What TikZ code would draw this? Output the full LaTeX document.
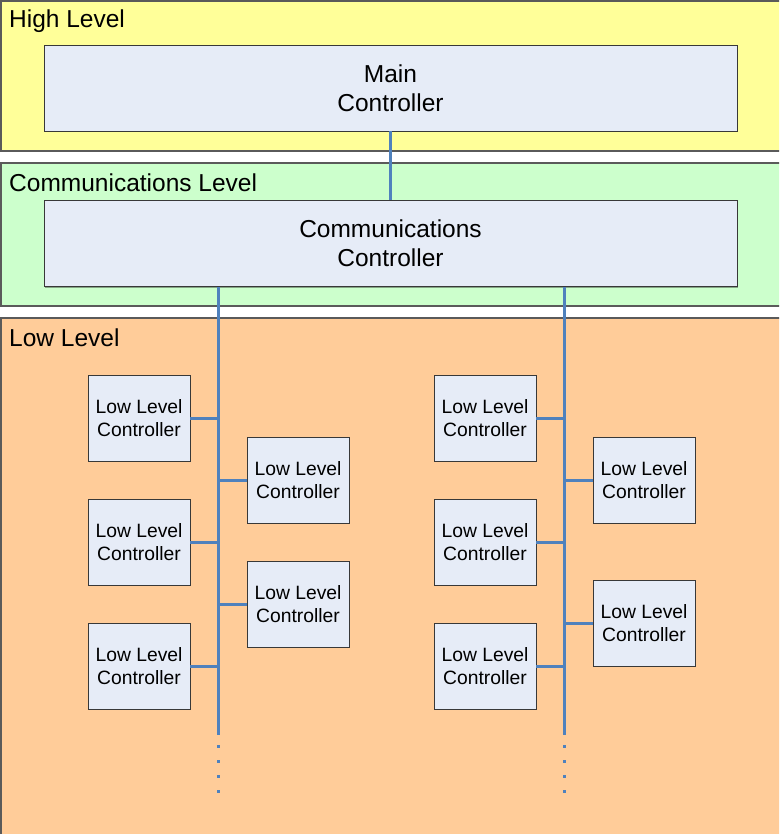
\documentclass[tikz,border=0pt]{standalone}
\usepackage{fontspec}
\setmainfont{Liberation Sans}
\usetikzlibrary{shadows}
\definecolor{hiyel}{HTML}{FFFF99}
\definecolor{comgrn}{HTML}{CCFFCC}
\definecolor{loor}{HTML}{FFCC99}
\definecolor{boxfill}{HTML}{E6ECF7}
\definecolor{busblue}{HTML}{4F81BD}
\definecolor{layerline}{HTML}{5A5A5A}
\definecolor{boxline}{HTML}{383838}
\tikzset{
  layer/.style={draw=layerline, line width=1.3pt},
  layertitle/.style={anchor=west, inner sep=0pt, font=\fontsize{24.5}{29}\selectfont},
  bigbox/.style={draw=boxline, fill=boxfill, line width=0.9pt, minimum width=693pt, minimum height=86pt, inner sep=0pt, align=center, font=\fontsize{24.5}{29}\selectfont, drop shadow={shadow xshift=1pt, shadow yshift=-1pt, fill=black, opacity=0.35}},
  llbox/.style={draw=boxline, fill=boxfill, line width=0.9pt, minimum width=102pt, minimum height=86pt, inner sep=0pt, align=center, font=\fontsize{19.3}{23}\selectfont, drop shadow={shadow xshift=1pt, shadow yshift=-1pt, fill=black, opacity=0.35}},
  bus/.style={draw=busblue, line width=3pt},
  busdots/.style={draw=busblue, line width=3pt, dash pattern=on 3pt off 12pt},
}
\begin{document}
\begin{tikzpicture}[x=1pt,y=-1pt]
\useasboundingbox (0,0) rectangle (779,834);
\clip (0,0) rectangle (779,834);
\fill[white] (0,0) rectangle (779,834);
% layers
\draw[layer, fill=hiyel] (1,1) rectangle (790,151);
\draw[layer, fill=comgrn] (1,163) rectangle (790,306);
\draw[layer, fill=loor] (1,318) rectangle (790,850);
\node[layertitle] (thigh) at (9,21) {High Level};
\node[layertitle] (tcomm) at (9,183) {Communications Level};
\node[layertitle] (tlow) at (9,338) {Low Level};
% controllers
\node[bigbox] (main) at (390.5,88) {Main\\Controller};
\node[bigbox] (comm) at (390.5,243.5) {Communications\\Controller};
% low-level, left group
\node[llbox] (a1) at (139,418) {Low Level\\Controller};
\node[llbox] (a2) at (139,542) {Low Level\\Controller};
\node[llbox] (a3) at (139,666) {Low Level\\Controller};
\node[llbox] (b1) at (298,480) {Low Level\\Controller};
\node[llbox] (b2) at (298,604) {Low Level\\Controller};
% low-level, right group
\node[llbox] (c1) at (485,418) {Low Level\\Controller};
\node[llbox] (c2) at (485,542) {Low Level\\Controller};
\node[llbox] (c3) at (485,666) {Low Level\\Controller};
\node[llbox] (d1) at (644,480) {Low Level\\Controller};
\node[llbox] (d2) at (644,623) {Low Level\\Controller};
% bus ends
\coordinate (busL) at (218,735);
\coordinate (busR) at (564,735);
\coordinate (dotL) at (218,793);
\coordinate (dotR) at (564,793);
% connectors
\draw[bus] (main.south) -- (comm.north);
\draw[bus] (comm.south -| busL) -- (busL);
\draw[bus] (comm.south -| busR) -- (busR);
\draw[busdots] ([yshift=-10pt]busL) -- (dotL);
\draw[busdots] ([yshift=-10pt]busR) -- (dotR);
\foreach \n in {a1,a2,a3}{\draw[bus] (\n.east) -- (\n.east -| busL);}
\foreach \n in {b1,b2}{\draw[bus] (\n.west) -- (\n.west -| busL);}
\foreach \n in {c1,c2,c3}{\draw[bus] (\n.east) -- (\n.east -| busR);}
\foreach \n in {d1,d2}{\draw[bus] (\n.west) -- (\n.west -| busR);}
\end{tikzpicture}
\end{document}
